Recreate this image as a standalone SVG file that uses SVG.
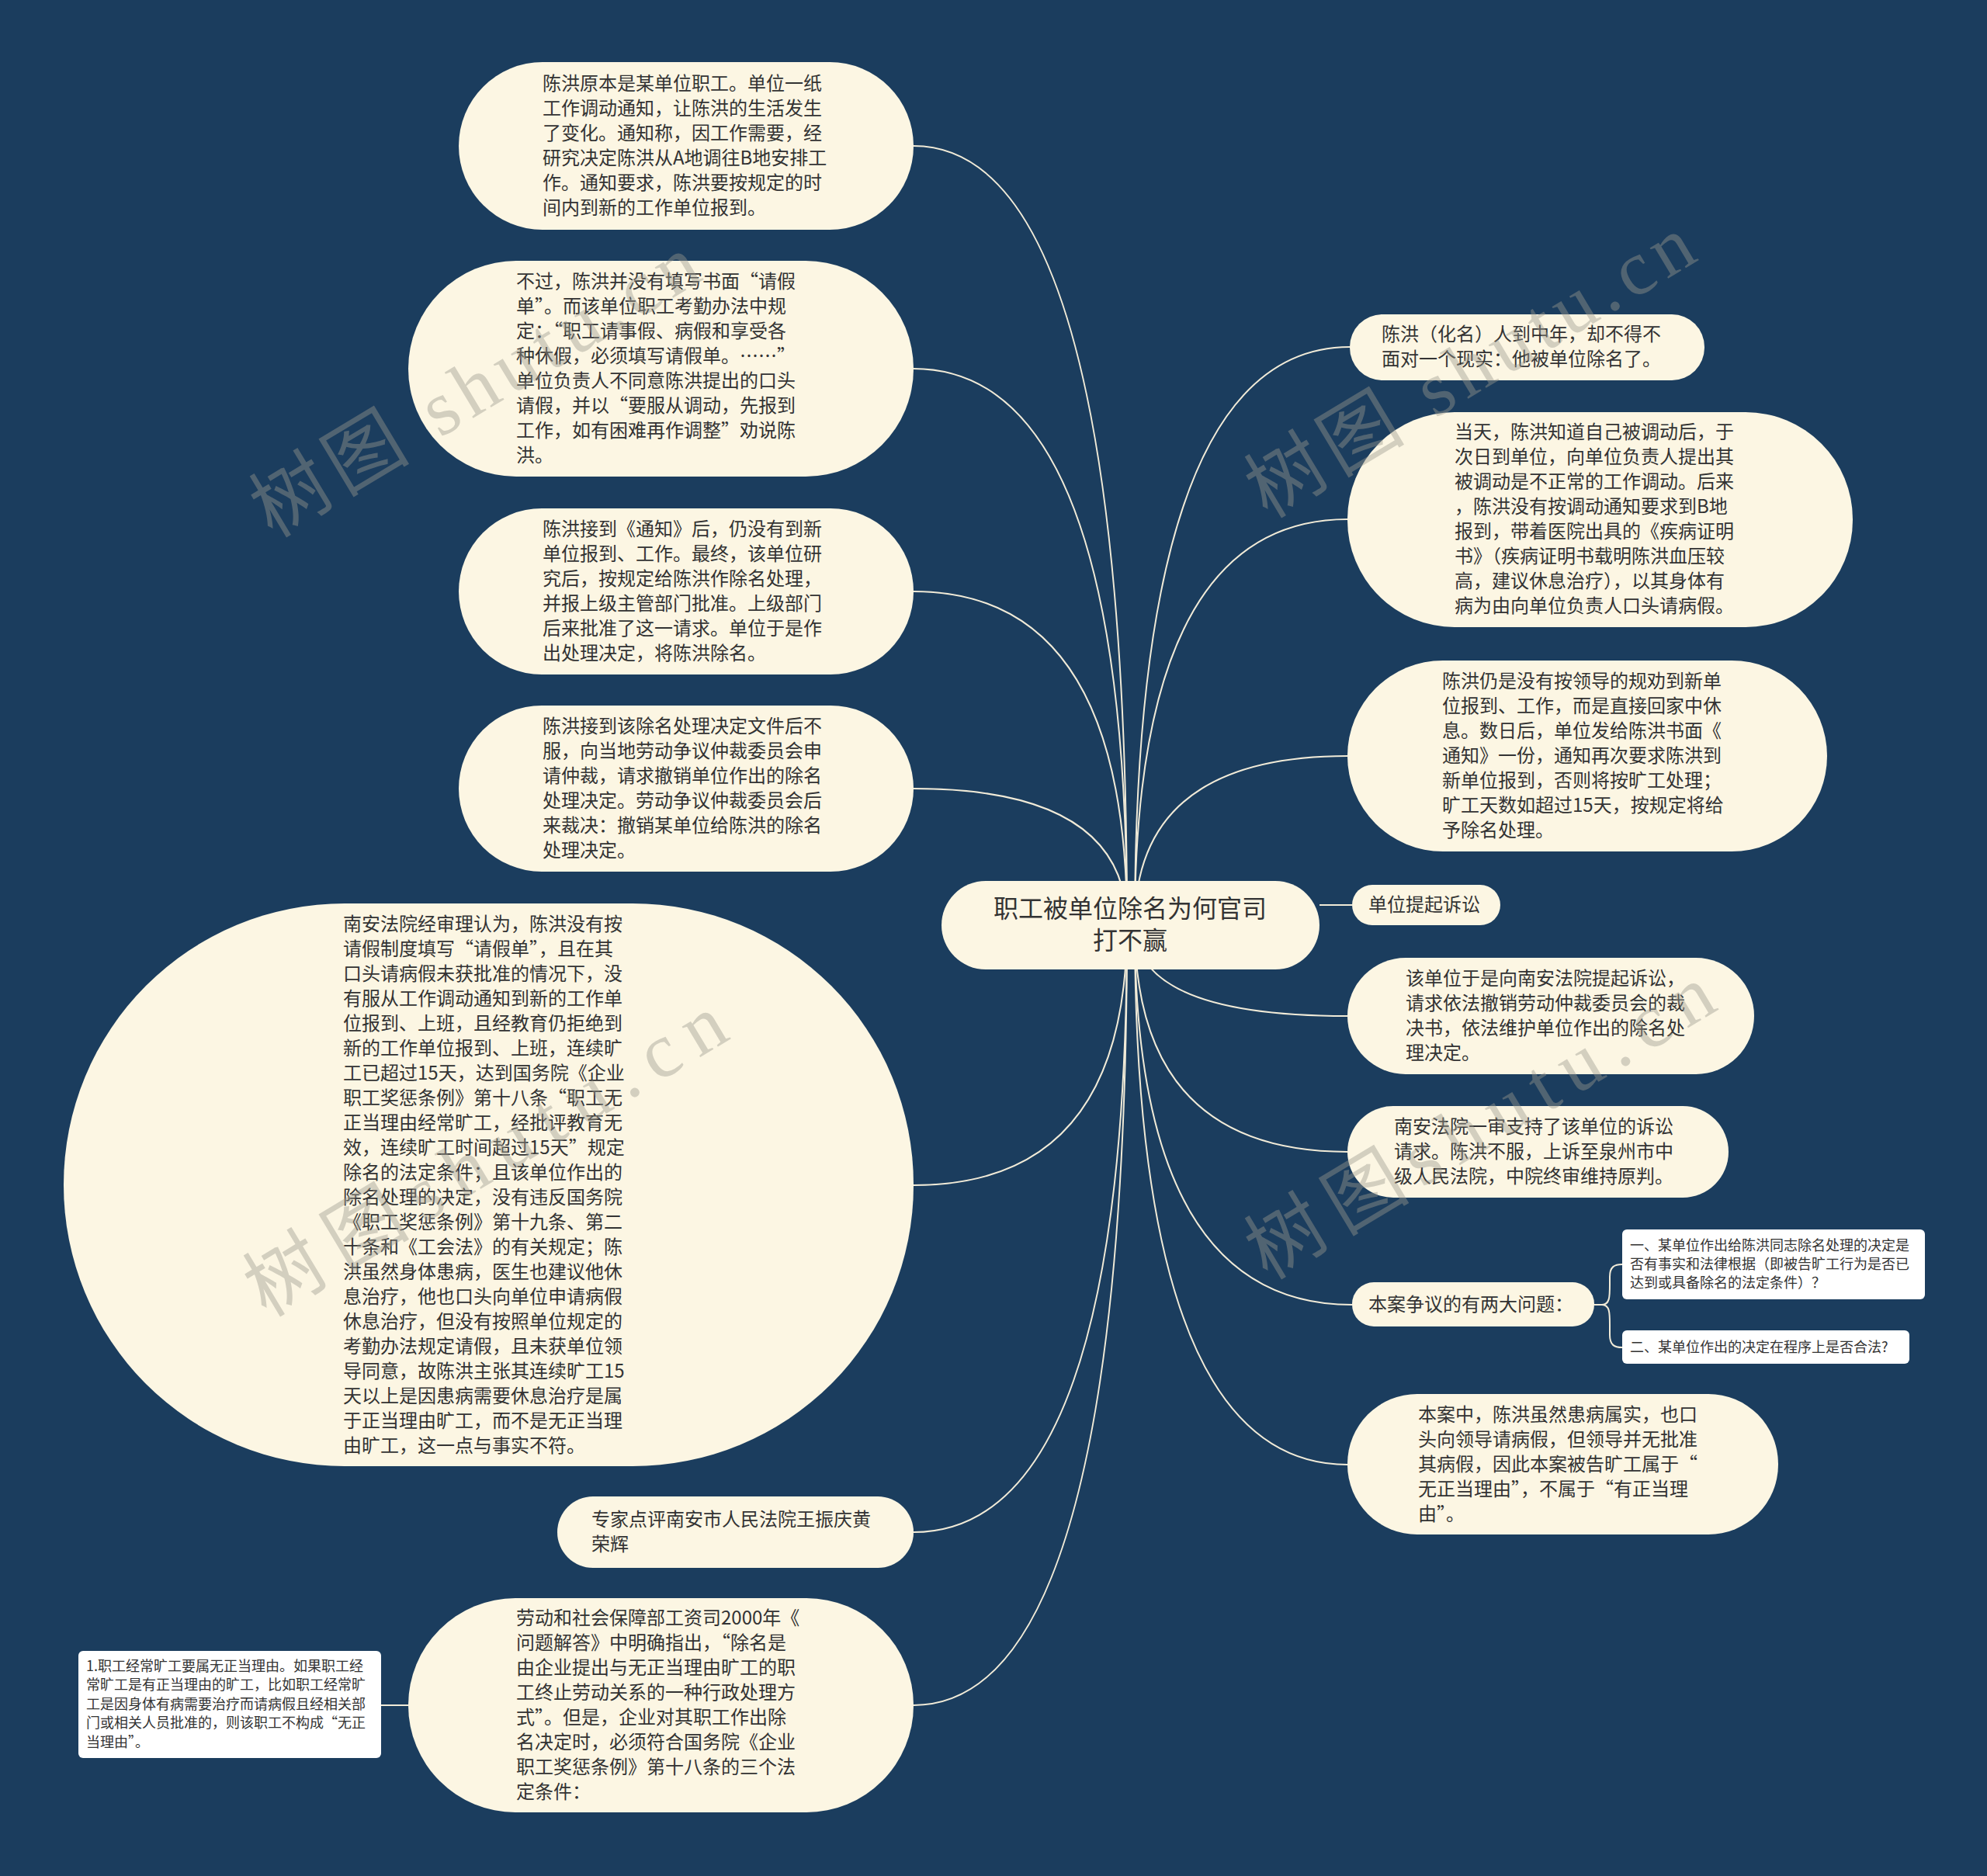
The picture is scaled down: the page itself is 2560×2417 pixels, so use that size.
<svg xmlns="http://www.w3.org/2000/svg" width="2560" height="2417" viewBox="0 0 2560 2417">
<style>
.bg{fill:#1b3d5e}
.pill{fill:#fcf6e3}
.box{fill:#ffffff}
.t{font-family:"Noto Sans CJK SC","Noto Sans",sans-serif;font-size:24px;fill:#333333}
.s{font-family:"Noto Sans CJK SC","Noto Sans",sans-serif;font-size:18px;fill:#333333}
.c{font-family:"Noto Sans CJK SC","Noto Sans",sans-serif;font-size:32px;fill:#333333;text-anchor:middle}
.ln{fill:none;stroke:#f1ebd8;stroke-width:2}
.wm{font-family:"Liberation Serif","Noto Sans CJK SC",serif;font-size:100px;fill:#9c9a8f;opacity:0.42}
</style>
<rect class="bg" x="0" y="0" width="2560" height="2417"/>
<g id="connectors">
<path class="ln" d="M1452 1192 Q1452 188 1177 188"/>
<path class="ln" d="M1452 1192 Q1452 475 1177 475"/>
<path class="ln" d="M1452 1192 Q1452 762 1177 762"/>
<path class="ln" d="M1452 1192 Q1452 1016 1177 1016"/>
<path class="ln" d="M1452 1192 Q1452 1527 1177 1527"/>
<path class="ln" d="M1452 1192 Q1452 1974 1177 1974"/>
<path class="ln" d="M1452 1192 Q1452 2197 1177 2197"/>
<path class="ln" d="M1462 1192 Q1462 447 1739 447"/>
<path class="ln" d="M1462 1192 Q1462 669 1736 669"/>
<path class="ln" d="M1462 1192 Q1462 974 1736 974"/>
<path class="ln" d="M1462 1192 Q1462 1309 1736 1309"/>
<path class="ln" d="M1462 1192 Q1462 1484 1736 1484"/>
<path class="ln" d="M1462 1192 Q1462 1681 1742 1681"/>
<path class="ln" d="M1462 1192 Q1462 1887 1736 1887"/>
<path class="ln" d="M1700 1166 L1742 1166"/>
<path class="ln" d="M2054 1681 L2064 1681 C2074 1681 2074 1670 2074 1655 L2074 1645 C2074 1632 2080 1629 2090 1629"/>
<path class="ln" d="M2054 1681 L2064 1681 C2074 1681 2074 1692 2074 1707 L2074 1720 C2074 1733 2080 1736 2090 1736"/>
<path class="ln" d="M526 2197 L491 2197"/>
</g>
<g id="center">
<rect class="pill" x="1213" y="1135" width="487" height="114" rx="57"/>
<text class="c" x="1456" y="1182">职工被单位除名为何官司</text>
<text class="c" x="1456" y="1223">打不赢</text>
</g>
<g id="nodeA">
<rect class="pill" x="591" y="80" width="586" height="216" rx="108"/>
<text class="t"><tspan x="699" y="116">陈洪原本是某单位职工。单位一纸</tspan><tspan x="699" y="148">工作调动通知，让陈洪的生活发生</tspan><tspan x="699" y="180">了变化。通知称，因工作需要，经</tspan><tspan x="699" y="212">研究决定陈洪从A地调往B地安排工</tspan><tspan x="699" y="244">作。通知要求，陈洪要按规定的时</tspan><tspan x="699" y="276">间内到新的工作单位报到。</tspan></text>
</g>
<g id="nodeB">
<rect class="pill" x="526" y="336" width="651" height="278" rx="139"/>
<text class="t"><tspan x="665" y="371">不过，陈洪并没有填写书面“请假</tspan><tspan x="665" y="403">单”。而该单位职工考勤办法中规</tspan><tspan x="665" y="435">定：“职工请事假、病假和享受各</tspan><tspan x="665" y="467">种休假，必须填写请假单。……”</tspan><tspan x="665" y="499">单位负责人不同意陈洪提出的口头</tspan><tspan x="665" y="531">请假，并以“要服从调动，先报到</tspan><tspan x="665" y="563">工作，如有困难再作调整”劝说陈</tspan><tspan x="665" y="595">洪。</tspan></text>
</g>
<g id="nodeC">
<rect class="pill" x="591" y="655" width="586" height="214" rx="107"/>
<text class="t"><tspan x="699" y="690">陈洪接到《通知》后，仍没有到新</tspan><tspan x="699" y="722">单位报到、工作。最终，该单位研</tspan><tspan x="699" y="754">究后，按规定给陈洪作除名处理，</tspan><tspan x="699" y="786">并报上级主管部门批准。上级部门</tspan><tspan x="699" y="818">后来批准了这一请求。单位于是作</tspan><tspan x="699" y="850">出处理决定，将陈洪除名。</tspan></text>
</g>
<g id="nodeD">
<rect class="pill" x="591" y="909" width="586" height="214" rx="107"/>
<text class="t"><tspan x="699" y="944">陈洪接到该除名处理决定文件后不</tspan><tspan x="699" y="976">服，向当地劳动争议仲裁委员会申</tspan><tspan x="699" y="1008">请仲裁，请求撤销单位作出的除名</tspan><tspan x="699" y="1040">处理决定。劳动争议仲裁委员会后</tspan><tspan x="699" y="1072">来裁决：撤销某单位给陈洪的除名</tspan><tspan x="699" y="1104">处理决定。</tspan></text>
</g>
<g id="nodeE">
<rect class="pill" x="82" y="1164" width="1095" height="725" rx="362"/>
<text class="t"><tspan x="442" y="1199">南安法院经审理认为，陈洪没有按</tspan><tspan x="442" y="1231">请假制度填写“请假单”，且在其</tspan><tspan x="442" y="1263">口头请病假未获批准的情况下，没</tspan><tspan x="442" y="1295">有服从工作调动通知到新的工作单</tspan><tspan x="442" y="1327">位报到、上班，且经教育仍拒绝到</tspan><tspan x="442" y="1359">新的工作单位报到、上班，连续旷</tspan><tspan x="442" y="1391">工已超过15天，达到国务院《企业</tspan><tspan x="442" y="1423">职工奖惩条例》第十八条“职工无</tspan><tspan x="442" y="1455">正当理由经常旷工，经批评教育无</tspan><tspan x="442" y="1487">效，连续旷工时间超过15天”规定</tspan><tspan x="442" y="1519">除名的法定条件；且该单位作出的</tspan><tspan x="442" y="1551">除名处理的决定，没有违反国务院</tspan><tspan x="442" y="1583">《职工奖惩条例》第十九条、第二</tspan><tspan x="442" y="1615">十条和《工会法》的有关规定；陈</tspan><tspan x="442" y="1647">洪虽然身体患病，医生也建议他休</tspan><tspan x="442" y="1679">息治疗，他也口头向单位申请病假</tspan><tspan x="442" y="1711">休息治疗，但没有按照单位规定的</tspan><tspan x="442" y="1743">考勤办法规定请假，且未获单位领</tspan><tspan x="442" y="1775">导同意，故陈洪主张其连续旷工15</tspan><tspan x="442" y="1807">天以上是因患病需要休息治疗是属</tspan><tspan x="442" y="1839">于正当理由旷工，而不是无正当理</tspan><tspan x="442" y="1871">由旷工，这一点与事实不符。</tspan></text>
</g>
<g id="nodeF">
<rect class="pill" x="718" y="1928" width="459" height="92" rx="46"/>
<text class="t"><tspan x="762" y="1966">专家点评南安市人民法院王振庆黄</tspan><tspan x="762" y="1998">荣辉</tspan></text>
</g>
<g id="nodeG">
<rect class="pill" x="526" y="2059" width="651" height="276" rx="138"/>
<text class="t"><tspan x="665" y="2093">劳动和社会保障部工资司2000年《</tspan><tspan x="665" y="2125">问题解答》中明确指出，“除名是</tspan><tspan x="665" y="2157">由企业提出与无正当理由旷工的职</tspan><tspan x="665" y="2189">工终止劳动关系的一种行政处理方</tspan><tspan x="665" y="2221">式”。但是，企业对其职工作出除</tspan><tspan x="665" y="2253">名决定时，必须符合国务院《企业</tspan><tspan x="665" y="2285">职工奖惩条例》第十八条的三个法</tspan><tspan x="665" y="2317">定条件：</tspan></text>
</g>
<g id="nodeG1">
<rect class="box" x="101" y="2127" width="390" height="138" rx="6"/>
<text class="s"><tspan x="111" y="2153">1.职工经常旷工要属无正当理由。如果职工经</tspan><tspan x="111" y="2177">常旷工是有正当理由的旷工，比如职工经常旷</tspan><tspan x="111" y="2202">工是因身体有病需要治疗而请病假且经相关部</tspan><tspan x="111" y="2226">门或相关人员批准的，则该职工不构成“无正</tspan><tspan x="111" y="2251">当理由”。</tspan></text>
</g>
<g id="nodeR1">
<rect class="pill" x="1739" y="405" width="457" height="85" rx="42"/>
<text class="t"><tspan x="1780" y="439">陈洪（化名）人到中年，却不得不</tspan><tspan x="1780" y="471">面对一个现实：他被单位除名了。</tspan></text>
</g>
<g id="nodeR2">
<rect class="pill" x="1736" y="531" width="651" height="277" rx="138"/>
<text class="t"><tspan x="1874" y="565">当天，陈洪知道自己被调动后，于</tspan><tspan x="1874" y="597">次日到单位，向单位负责人提出其</tspan><tspan x="1874" y="629">被调动是不正常的工作调动。后来</tspan><tspan x="1874" y="661">，陈洪没有按调动通知要求到B地</tspan><tspan x="1874" y="693">报到，带着医院出具的《疾病证明</tspan><tspan x="1874" y="725">书》（疾病证明书载明陈洪血压较</tspan><tspan x="1874" y="757">高，建议休息治疗），以其身体有</tspan><tspan x="1874" y="789">病为由向单位负责人口头请病假。</tspan></text>
</g>
<g id="nodeR3">
<rect class="pill" x="1736" y="851" width="618" height="246" rx="123"/>
<text class="t"><tspan x="1858" y="886">陈洪仍是没有按领导的规劝到新单</tspan><tspan x="1858" y="918">位报到、工作，而是直接回家中休</tspan><tspan x="1858" y="950">息。数日后，单位发给陈洪书面《</tspan><tspan x="1858" y="982">通知》一份，通知再次要求陈洪到</tspan><tspan x="1858" y="1014">新单位报到，否则将按旷工处理；</tspan><tspan x="1858" y="1046">旷工天数如超过15天，按规定将给</tspan><tspan x="1858" y="1078">予除名处理。</tspan></text>
</g>
<g id="nodeR4">
<rect class="pill" x="1742" y="1140" width="191" height="52" rx="26"/>
<text class="t" x="1763" y="1174">单位提起诉讼</text>
</g>
<g id="nodeR5">
<rect class="pill" x="1736" y="1234" width="524" height="150" rx="75"/>
<text class="t"><tspan x="1811" y="1269">该单位于是向南安法院提起诉讼，</tspan><tspan x="1811" y="1301">请求依法撤销劳动仲裁委员会的裁</tspan><tspan x="1811" y="1333">决书，依法维护单位作出的除名处</tspan><tspan x="1811" y="1365">理决定。</tspan></text>
</g>
<g id="nodeR6">
<rect class="pill" x="1736" y="1425" width="491" height="118" rx="59"/>
<text class="t"><tspan x="1796" y="1460">南安法院一审支持了该单位的诉讼</tspan><tspan x="1796" y="1492">请求。陈洪不服，上诉至泉州市中</tspan><tspan x="1796" y="1524">级人民法院，中院终审维持原判。</tspan></text>
</g>
<g id="nodeR7">
<rect class="pill" x="1742" y="1652" width="312" height="57" rx="28"/>
<text class="t" x="1763" y="1689">本案争议的有两大问题：</text>
</g>
<g id="nodeR7a">
<rect class="box" x="2090" y="1584" width="390" height="90" rx="6"/>
<text class="s"><tspan x="2100" y="1611">一、某单位作出给陈洪同志除名处理的决定是</tspan><tspan x="2100" y="1635">否有事实和法律根据（即被告旷工行为是否已</tspan><tspan x="2100" y="1659">达到或具备除名的法定条件）？</tspan></text>
</g>
<g id="nodeR7b">
<rect class="box" x="2090" y="1714" width="370" height="43" rx="6"/>
<text class="s" x="2100" y="1742">二、某单位作出的决定在程序上是否合法?</text>
</g>
<g id="nodeR8">
<rect class="pill" x="1736" y="1796" width="555" height="181" rx="90"/>
<text class="t"><tspan x="1827" y="1831">本案中，陈洪虽然患病属实，也口</tspan><tspan x="1827" y="1863">头向领导请病假，但领导并无批准</tspan><tspan x="1827" y="1895">其病假，因此本案被告旷工属于“</tspan><tspan x="1827" y="1927">无正当理由”，不属于“有正当理</tspan><tspan x="1827" y="1959">由”。</tspan></text>
</g>
<g id="watermarks">
<text class="wm" transform="translate(351 694) rotate(-31)" textLength="650">树图 shutu.cn</text>
<text class="wm" transform="translate(1633 669) rotate(-31)" textLength="650">树图 shutu.cn</text>
<text class="wm" transform="translate(343 1698) rotate(-31)" textLength="700">树图shutu.cn</text>
<text class="wm" transform="translate(1633 1650) rotate(-31)" textLength="680">树图shutu.cn</text>
</g>
</svg>
